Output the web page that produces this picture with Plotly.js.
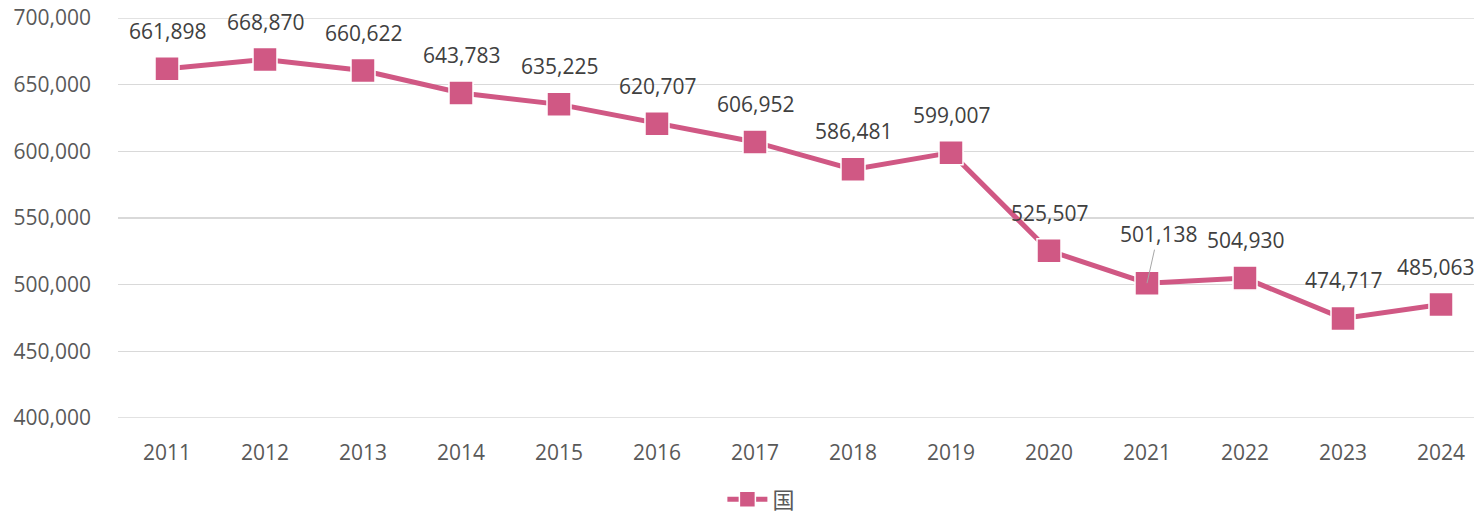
<!DOCTYPE html>
<html>
<head>
<meta charset="utf-8">
<script src="https://cdn.plot.ly/plotly-3.0.1.min.js"></script>
<style>
html,body{margin:0;padding:0;overflow:hidden;background:#fff;}
#chart{width:1490px;height:515px;}
</style>
</head>
<body>
<div id="chart"></div>
<script>
const years = ['2011','2012','2013','2014','2015','2016','2017','2018','2019','2020','2021','2022','2023','2024'];
const values = [661898, 668870, 660622, 643783, 635225, 620707, 606952, 586481, 599007, 525507, 501138, 504930, 474717, 485063];
const seriesName = '国';
const yTicks = [400000, 450000, 500000, 550000, 600000, 650000, 700000];

const color = '#D05884';
const fontFam = '"Open Sans", "Noto Sans", "Noto Sans CJK JP", sans-serif';

const fmt = v => v.toLocaleString('en-US');

const annotations = years.map((yr, i) => {
  const base = {
    x: i, y: values[i], xref: 'x', yref: 'y',
    text: fmt(values[i]),
    font: {family: fontFam, size: 21, color: '#404040'},
  };
  if (yr === '2021') {
    return Object.assign(base, {
      showarrow: true, arrowhead: 0, arrowwidth: 1, arrowcolor: '#A6A6A6',
      ax: 11, ay: -49, standoff: 0
    });
  }
  const o = Object.assign(base, {showarrow: false, yshift: 38});
  if (i === years.length - 1) o.xshift = -6;
  return o;
});

const gridShapes = [yTicks[0], yTicks[yTicks.length - 1]].map(v => ({
  type: 'line', xref: 'paper', yref: 'y', x0: 0, x1: 1, y0: v, y1: v,
  line: {color: '#D9D9D9', width: 1.5}, layer: 'below'
}));

const trace = {
  x: years, y: values, name: seriesName,
  type: 'scatter', mode: 'lines+markers',
  line: {color: color, width: 5},
  marker: {symbol: 'square', size: 24, color: color, line: {color: '#ffffff', width: 1.5}},
  hoverinfo: 'x+y'
};

const layout = {
  width: 1490, height: 515,
  margin: {l: 118, r: 0, t: 18, b: 97},
  paper_bgcolor: '#ffffff', plot_bgcolor: '#ffffff',
  font: {family: fontFam, color: '#595959', size: 20},
  xaxis: {
    type: 'category', range: [-0.5, 13.5],
    showgrid: false, zeroline: false, showline: false,
    ticks: '', ticklabelstandoff: 20,
    tickfont: {family: fontFam, size: 21, color: '#595959'}
  },
  yaxis: {
    range: [400000, 700000], tickvals: yTicks,
    ticktext: yTicks.map(fmt),
    showgrid: true, gridcolor: '#D9D9D9', gridwidth: 1.5,
    zeroline: false, showline: false, ticks: '',
    ticklabelstandoff: 26,
    tickfont: {family: fontFam, size: 21, color: '#595959'}
  },
  showlegend: true,
  legend: {
    orientation: 'h', xref: 'container', yref: 'container',
    x: 0.511, xanchor: 'center', y: 0.03, yanchor: 'middle',
    font: {family: fontFam, size: 22, color: '#595959'},
    itemwidth: 40
  },
  shapes: gridShapes,
  annotations: annotations
};

Plotly.newPlot('chart', [trace], layout, {displayModeBar: false, staticPlot: true});
</script>
</body>
</html>
